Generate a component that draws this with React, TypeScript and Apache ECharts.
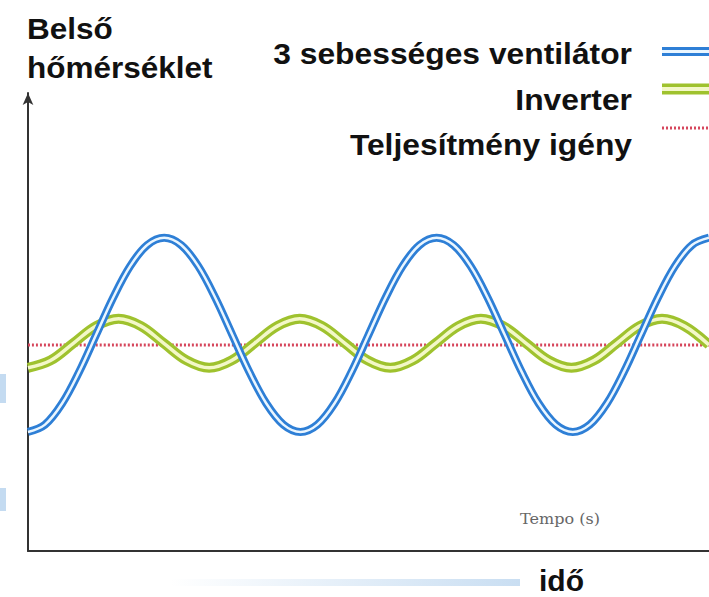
import React, { useEffect, useRef } from "react";
import * as echarts from "echarts";

// 3-speed fan: sample times (s) and inner temperature
const fanTime: number[] = [
  0, 2.5, 5, 7.5, 10, 12.5, 15, 17.5, 20, 22.5, 25, 27.5, 30, 32.5, 35, 37.5, 40,
  42.5, 45, 47.5, 50, 52.5, 55, 57.5, 60, 62.5, 65, 67.5, 70, 72.5, 75, 77.5, 80,
  82.5, 85, 87.5, 90, 92.5, 95, 97.5, 100,
];
const fanTemp: number[] = [
  26.0, 27.6, 32.2, 39.1, 47.2, 55.3, 62.2, 66.8, 68.4, 66.8, 62.2, 55.3, 47.2, 39.1, 32.2, 27.6, 26.0,
  27.6, 32.2, 39.1, 47.2, 55.3, 62.2, 66.8, 68.4, 66.8, 62.2, 55.3, 47.2, 39.1, 32.2, 27.6, 26.0,
  27.6, 32.2, 39.1, 47.2, 55.3, 62.2, 66.8, 68.4,
];

// inverter: sample times (s) and inner temperature
const inverterTime: number[] = [
  0, 3.3, 6.65, 10.0, 13.3, 16.6, 19.95, 23.3, 26.6, 29.9, 33.25, 36.6, 39.9, 43.2, 46.55, 49.9,
  53.2, 56.5, 59.85, 63.2, 66.5, 69.8, 73.15, 76.5, 79.8, 83.1, 86.45, 89.8, 93.1, 96.4, 100,
];
const inverterTemp: number[] = [
  40.0, 41.6, 45.35, 49.1, 50.7, 49.1, 45.35, 41.6, 40.0, 41.6, 45.35, 49.1, 50.7, 49.1, 45.35, 41.6,
  40.0, 41.6, 45.35, 49.1, 50.7, 49.1, 45.35, 41.6, 40.0, 41.6, 45.35, 49.1, 50.7, 49.1, 45.0,
];

// demand (constant level)
const demandTime: number[] = [0, 100];
const demandLevel: number[] = [45.0, 45.0];

const seriesNames = ["3 sebességes ventilátor", "Inverter", "Teljesítmény igény"];
const yAxisTitle = ["Belső", "hőmérséklet"];
const xAxisTitle = "idő";
const innerLabel = "Tempo (s)";

const BLUE = "#2e7fd6";
const BLUE_IN = "#eaf6ff";
const GREEN = "#9fc22e";
const GREEN_IN = "#f3f8c8";
const RED = "#d6465c";

const pairs = (xs: number[], ys: number[]) => xs.map((x, i) => [x, ys[i]]);

export default function App() {
  const ref = useRef<HTMLDivElement>(null);
  useEffect(() => {
    if (!ref.current) return;
    const chart = echarts.init(ref.current, null, { renderer: "svg" });
    const boldFont = 'bold 30px "Liberation Sans", Arial, sans-serif';
    const lineSeries = (name: string, xs: number[], ys: number[], color: string, width: number, z: number, type: any = "solid") => ({
      type: "line",
      name,
      data: pairs(xs, ys),
      smooth: 0.36,
      showSymbol: false,
      symbol: "none",
      silent: true,
      z,
      lineStyle: { color, width, type, cap: "butt" },
    });
    chart.setOption({
      animation: false,
      backgroundColor: "#ffffff",
      grid: { left: 28, right: 0, top: 93, bottom: 46, containLabel: false },
      xAxis: {
        type: "value",
        min: 0,
        max: 100,
        axisLine: { show: true, onZero: false, lineStyle: { color: "#333", width: 2 } },
        axisTick: { show: false },
        axisLabel: { show: false },
        splitLine: { show: false },
      },
      yAxis: {
        type: "value",
        min: 0,
        max: 100,
        axisLine: {
          show: true,
          onZero: false,
          symbol: ["none", "arrow"],
          symbolSize: [8, 12],
          lineStyle: { color: "#333", width: 2 },
        },
        axisTick: { show: false },
        axisLabel: { show: false },
        splitLine: { show: false },
      },
      series: [
        lineSeries(seriesNames[2], demandTime, demandLevel, RED, 3, 2, [2, 2]),
        lineSeries(seriesNames[1], inverterTime, inverterTemp, GREEN, 10, 3),
        lineSeries(seriesNames[1] + " ", inverterTime, inverterTemp, GREEN_IN, 3.5, 4),
        lineSeries(seriesNames[0], fanTime, fanTemp, BLUE, 8, 5),
        lineSeries(seriesNames[0] + " ", fanTime, fanTemp, BLUE_IN, 2.5, 6),
      ],
      graphic: [
        // faint background smears
        { type: "rect", shape: { x: 0, y: 374, width: 6, height: 29 }, style: { fill: "#c4dbf1" }, silent: true },
        { type: "rect", shape: { x: 0, y: 488, width: 6, height: 23 }, style: { fill: "#c4dbf1" }, silent: true },
        {
          type: "rect",
          shape: { x: 170, y: 579, width: 350, height: 7 },
          style: {
            fill: new echarts.graphic.LinearGradient(0, 0, 1, 0, [
              { offset: 0, color: "#ffffff" },
              { offset: 1, color: "#c9def2" },
            ]),
          },
          silent: true,
        },
        // y axis title
        { type: "text", x: 27, y: 28.6, scaleX: 1.05, style: { text: yAxisTitle[0], font: boldFont, fill: "#111", textAlign: "left", textVerticalAlign: "middle" } },
        { type: "text", x: 27, y: 67.6, scaleX: 1.05, style: { text: yAxisTitle[1], font: boldFont, fill: "#111", textAlign: "left", textVerticalAlign: "middle" } },
        // x axis title
        { type: "text", x: 539, y: 580.6, scaleX: 1.0, style: { text: xAxisTitle, font: boldFont, fill: "#111", textAlign: "left", textVerticalAlign: "middle" } },
        // inner serif label
        { type: "text", x: 520, y: 519.5, scaleX: 1.07, style: { text: innerLabel, font: '15px "DejaVu Serif", serif', fill: "#666", textAlign: "left", textVerticalAlign: "middle" } },
        // legend texts
        { type: "text", x: 632, y: 53.6, scaleX: 1.06, style: { text: seriesNames[0], font: boldFont, fill: "#111", textAlign: "right", textVerticalAlign: "middle" } },
        { type: "text", x: 632, y: 99.6, scaleX: 1.06, style: { text: seriesNames[1], font: boldFont, fill: "#111", textAlign: "right", textVerticalAlign: "middle" } },
        { type: "text", x: 632, y: 144.6, scaleX: 1.06, style: { text: seriesNames[2], font: boldFont, fill: "#111", textAlign: "right", textVerticalAlign: "middle" } },
        // legend samples
        { type: "line", shape: { x1: 662, y1: 51.5, x2: 709, y2: 51.5 }, style: { stroke: BLUE, lineWidth: 9 } },
        { type: "line", shape: { x1: 662, y1: 51.5, x2: 709, y2: 51.5 }, style: { stroke: BLUE_IN, lineWidth: 3 } },
        { type: "line", shape: { x1: 662, y1: 89, x2: 709, y2: 89 }, style: { stroke: GREEN, lineWidth: 11 } },
        { type: "line", shape: { x1: 662, y1: 89, x2: 709, y2: 89 }, style: { stroke: GREEN_IN, lineWidth: 4 } },
        { type: "line", shape: { x1: 662, y1: 128, x2: 709, y2: 128 }, style: { stroke: RED, lineWidth: 3, lineDash: [2, 2] } },
      ],
    });
    return () => chart.dispose();
  }, []);
  return <div ref={ref} style={{ width: 709, height: 597, position: "absolute", left: 0, top: 0 }} />;
}
